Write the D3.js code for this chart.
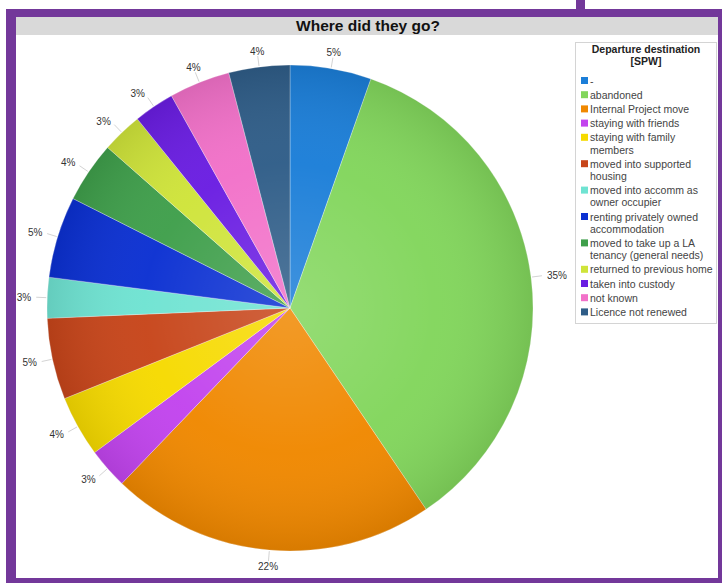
<!DOCTYPE html>
<html>
<head>
<meta charset="utf-8">
<script src="https://cdn.jsdelivr.net/npm/d3@7"></script>
<style>
  html, body { margin: 0; padding: 0; background: #fff; }
  svg { display: block; font-family: "Liberation Sans", Arial, sans-serif; }
</style>
</head>
<body>
<svg id="chart" width="722" height="583"></svg>
<script>
// Departure destinations (counts), drawn clockwise from 12 o'clock
const categories = [
  "-",
  "abandoned",
  "Internal Project move",
  "staying with friends",
  "staying with family members",
  "moved into supported housing",
  "moved into accomm as owner occupier",
  "renting privately owned accommodation",
  "moved to take up a LA tenancy (general needs)",
  "returned to previous home",
  "taken into custody",
  "not known",
  "Licence not renewed"
];
const counts = [4, 26, 16, 2, 3, 4, 2, 4, 3, 2, 2, 3, 3];
const colors = [
  "#1b7ed8", "#82d65c", "#f08800", "#c244ee", "#f6da00", "#c7451a",
  "#6fe3d2", "#0b30d2", "#3f9f4b", "#cfe43a", "#6a1de2", "#f271c9", "#2f5d88"
];
// Legend lines (long names wrap onto a second line)
const legendLines = [
  ["-"],
  ["abandoned"],
  ["Internal Project move"],
  ["staying with friends"],
  ["staying with family", "members"],
  ["moved into supported", "housing"],
  ["moved into accomm as", "owner occupier"],
  ["renting privately owned", "accommodation"],
  ["moved to take up a LA", "tenancy (general needs)"],
  ["returned to previous home"],
  ["taken into custody"],
  ["not known"],
  ["Licence not renewed"]
];
const title = "Where did they go?";
const legendTitle = ["Departure destination", "[SPW]"];

const svg = d3.select("#chart");
const W = 722, H = 583;
const purple = "#73389a";

// Frame
svg.append("rect").attr("x", 0).attr("y", 0).attr("width", W).attr("height", H).attr("fill", "#fff");
svg.append("rect").attr("x", 576).attr("y", 0).attr("width", 9).attr("height", 12).attr("fill", purple);
svg.append("rect").attr("x", 6).attr("y", 9).attr("width", W - 6).attr("height", H - 9).attr("fill", purple);
svg.append("rect").attr("x", 16).attr("y", 17).attr("width", 702).attr("height", 561).attr("fill", "#fff");

// Title band
svg.append("rect").attr("x", 16).attr("y", 17).attr("width", 702).attr("height", 18).attr("fill", "#d9d9d9");
svg.append("text").attr("x", 368).attr("y", 31).attr("text-anchor", "middle")
  .attr("font-size", 15.5).attr("font-weight", "bold").attr("fill", "#111").text(title);

// Pie
const cx = 290, cy = 308, R = 243;
const total = d3.sum(counts);
const pie = d3.pie().sort(null).value(d => d)(counts);
const arc = d3.arc().innerRadius(0).outerRadius(R);

const defs = svg.append("defs");
const shade = defs.append("radialGradient").attr("id", "shade")
  .attr("cx", 0.5).attr("cy", 0.5).attr("r", 0.5);
shade.append("stop").attr("offset", "0%").attr("stop-color", "#fff").attr("stop-opacity", 0.16);
shade.append("stop").attr("offset", "60%").attr("stop-color", "#fff").attr("stop-opacity", 0.03);
shade.append("stop").attr("offset", "100%").attr("stop-color", "#000").attr("stop-opacity", 0.1);

const g = svg.append("g").attr("transform", `translate(${cx},${cy})`);
g.selectAll("path.slice").data(pie).join("path")
  .attr("class", "slice")
  .attr("d", arc)
  .attr("fill", (d, i) => colors[i])
  .attr("stroke", "#fff").attr("stroke-opacity", 0.5).attr("stroke-width", 0.6);
g.append("circle").attr("r", R).attr("fill", "url(#shade)").attr("pointer-events", "none");

// Percentage labels with short leader lines
const pct = d => Math.round(d.value / total * 100) + "%";
pie.forEach(d => {
  const a = (d.startAngle + d.endAngle) / 2;
  const s = Math.sin(a), c = -Math.cos(a);
  g.append("line")
    .attr("x1", (R + 1) * s).attr("y1", (R + 1) * c)
    .attr("x2", (R + 11) * s).attr("y2", (R + 11) * c)
    .attr("stroke", "#c8c8c8").attr("stroke-width", 0.8);
  const lr = R + 16;
  const anchor = Math.abs(s) < 0.45 ? "middle" : (s > 0 ? "start" : "end");
  g.append("text")
    .attr("x", lr * s).attr("y", lr * c)
    .attr("dy", "0.35em")
    .attr("text-anchor", anchor)
    .attr("font-size", 10).attr("fill", "#333")
    .text(pct(d));
});

// Legend
const lg = svg.append("g");
lg.append("rect").attr("x", 575.5).attr("y", 42.5).attr("width", 141).attr("height", 281)
  .attr("fill", "#fff").attr("stroke", "#d4d4d4");
legendTitle.forEach((t, i) => {
  lg.append("text").attr("x", 646).attr("y", 53 + i * 12).attr("text-anchor", "middle")
    .attr("font-size", 10.5).attr("font-weight", "bold").attr("fill", "#222").text(t);
});
let y = 81;
legendLines.forEach((lines, i) => {
  lg.append("rect").attr("x", 581).attr("y", y - 4).attr("width", 7).attr("height", 7).attr("fill", colors[i]);
  lines.forEach((t, j) => {
    lg.append("text").attr("x", 590).attr("y", y + j * 12.2).attr("dy", "0.35em")
      .attr("font-size", 10.5).attr("fill", "#444").text(t);
  });
  y += 14.2 + (lines.length - 1) * 12.2;
});
</script>
</body>
</html>
